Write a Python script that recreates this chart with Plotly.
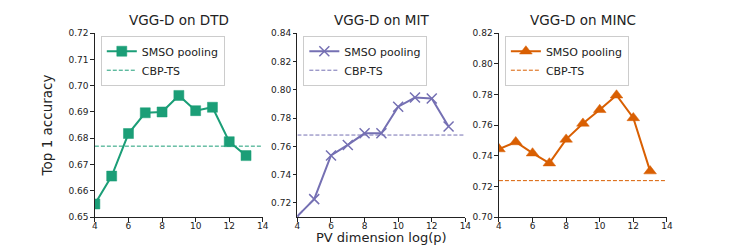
import plotly.graph_objects as go

# ---- data ----
pv_dims = [4, 5, 6, 7, 8, 9, 10, 11, 12, 13]
dtd_smso = [0.655, 0.6656, 0.6818, 0.6897, 0.6900, 0.6963, 0.6905, 0.6918, 0.6787, 0.6734]
mit_smso = [0.7107, 0.7227, 0.7536, 0.7610, 0.7692, 0.7692, 0.7880, 0.7945, 0.7938, 0.7740]
minc_smso = [0.7444, 0.7490, 0.7417, 0.7352, 0.7507, 0.7611, 0.7700, 0.7795, 0.7647, 0.7300]
dtd_cbp = 0.677
mit_cbp = 0.768
minc_cbp = 0.7238
x_limits = [4, 14]

titles = ["VGG-D on DTD", "VGG-D on MIT", "VGG-D on MINC"]
colors = ["#1b9e77", "#7570b3", "#d95f02"]
symbols = ["square", "x-thin", "triangle-up"]
y_ranges = [[0.65, 0.72], [0.71, 0.84], [0.70, 0.82]]
y_dticks = [0.01, 0.02, 0.02]
series = [dtd_smso, mit_smso, minc_smso]
cbps = [dtd_cbp, mit_cbp, minc_cbp]

W, H = 747, 249
FONT = "DejaVu Sans"
px_left = [93, 298, 502]
px_w = 170
px_top, px_bot = 29.3, 221

fig = go.Figure()
for i in range(3):
    ax = "" if i == 0 else str(i + 1)
    leg = "legend" if i == 0 else f"legend{i+1}"
    marker = dict(symbol=symbols[i], size=10 if i != 2 else 11, color=colors[i],
                  line=dict(color=colors[i], width=1.5 if i == 1 else 0.5))
    fig.add_trace(go.Scatter(
        x=pv_dims, y=series[i], mode="lines+markers", name="SMSO pooling",
        line=dict(color=colors[i], width=2), marker=marker,
        xaxis="x" + ax, yaxis="y" + ax, legend=leg))
    fig.add_trace(go.Scatter(
        x=x_limits, y=[cbps[i], cbps[i]], mode="lines", name="CBP-TS",
        line=dict(color=colors[i], width=1, dash="4px,2px"),
        xaxis="x" + ax, yaxis="y" + ax, legend=leg))

    x0 = px_left[i] / W
    x1 = (px_left[i] + px_w) / W
    axis_common = dict(showgrid=False, zeroline=False, showline=True, linecolor="#222",
                       linewidth=1, ticks="outside", ticklen=3.5, tickcolor="#222",
                       tickfont=dict(family=FONT, size=9, color="#222"), mirror=False)
    fig.update_layout(**{
        "xaxis" + ax: dict(domain=[x0, x1], range=x_limits, dtick=2, tick0=4,
                           anchor="y" + ax, ticklabelstandoff=-3, **axis_common),
        "yaxis" + ax: dict(domain=[1 - px_bot / H, 1 - px_top / H], range=y_ranges[i],
                           dtick=y_dticks[i], tickformat=".2f", anchor="x" + ax,
                           **axis_common),
        leg: dict(x=(px_left[i] + 6) / W, y=1 - 32 / H, xanchor="left", yanchor="top",
                  bgcolor="rgba(255,255,255,0.8)", bordercolor="#cccccc", borderwidth=1,
                  font=dict(family=FONT, size=11, color="#222"), tracegroupgap=0,
                  itemwidth=30),
    })
    fig.add_annotation(text=titles[i], x=(px_left[i] + px_w / 2) / W, y=1 - 16 / H,
                       xref="paper", yref="paper", showarrow=False,
                       font=dict(family=FONT, size=13.5, color="#222"),
                       xanchor="center", yanchor="middle")

fig.add_annotation(text="PV dimension log(p)", x=383 / W, y=0, xref="paper", yref="paper",
                   showarrow=False, font=dict(family=FONT, size=13, color="#222"),
                   xanchor="center", yanchor="bottom", borderpad=0, yshift=-2)
fig.add_annotation(text="Top 1 accuracy", x=45 / W, y=1 - 125 / H, xref="paper", yref="paper",
                   showarrow=False, textangle=-90, font=dict(family=FONT, size=13.5, color="#222"),
                   xanchor="center", yanchor="middle")

fig.update_layout(width=W, height=H, margin=dict(l=0, r=0, t=0, b=0),
                  paper_bgcolor="white", plot_bgcolor="white", showlegend=True)
fig.write_html("out.html", config={"displayModeBar": False},
               post_script="document.body.style.margin='0px';document.body.style.overflow='hidden';")
